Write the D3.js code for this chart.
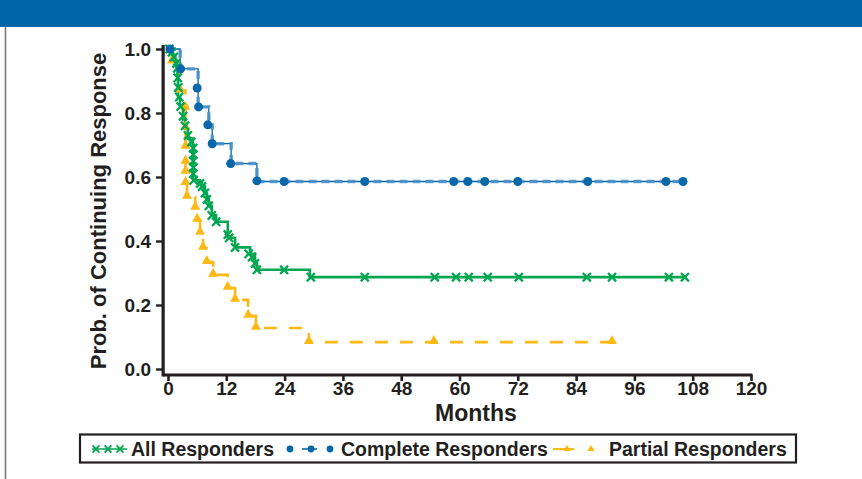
<!DOCTYPE html>
<html><head><meta charset="utf-8">
<script src="https://cdn.jsdelivr.net/npm/d3@7/dist/d3.min.js"></script>
<style>
html,body{margin:0;padding:0;background:#fff;}
svg{display:block;font-family:"Liberation Sans",Arial,sans-serif;font-weight:bold;}
</style></head>
<body>
<svg id="chart" width="862" height="479"></svg>
<script>
// ---- Data ----
const xTicks = [0, 12, 24, 36, 48, 60, 72, 84, 96, 108, 120];
const yTicks = [0, 0.2, 0.4, 0.6, 0.8, 1.0];
const seriesNames = ["All Responders", "Complete Responders", "Partial Responders"];

// Kaplan-Meier steps: [month, probability]
const allSteps = [[0,1.0],[0.4,0.99],[1.0,0.975],[1.5,0.955],[1.85,0.94],[1.95,0.91],[2.06,0.85],[2.47,0.82],[3.09,0.78],[3.5,0.75],[4.1,0.72],[5.1,0.70],[5.2,0.59],[6.6,0.58],[7.0,0.57],[7.6,0.55],[8.0,0.53],[8.4,0.51],[9.0,0.48],[9.9,0.46],[12.3,0.41],[13.8,0.38],[16.9,0.36],[17.9,0.33],[18.3,0.31],[29.2,0.287],[106.4,0.287]];
const allMarks = [[0.3,1.0],[0.8,0.99],[1.2,0.975],[1.7,0.955],[1.9,0.94],[2.0,0.91],[2.1,0.88],[2.3,0.85],[2.6,0.82],[3.1,0.79],[3.5,0.76],[4.1,0.73],[4.8,0.71],[5.2,0.69],[5.2,0.67],[5.2,0.65],[5.2,0.63],[5.2,0.61],[5.3,0.59],[6.6,0.58],[7.0,0.57],[7.6,0.55],[8.0,0.53],[8.4,0.51],[9.0,0.48],[9.9,0.46],[12.3,0.42],[12.6,0.41],[13.8,0.38],[16.6,0.36],[17.3,0.35],[17.9,0.33],[18.3,0.31],[23.9,0.31],[29.4,0.287],[40.5,0.287],[54.9,0.287],[59.3,0.287],[61.9,0.287],[65.8,0.287],[72.2,0.287],[86.2,0.287],[91.4,0.287],[103.1,0.287],[106.4,0.287]];

const completeSteps = [[0,1.0],[2.5,0.938],[6.2,0.819],[8.4,0.763],[9.1,0.704],[13.0,0.642],[18.3,0.586],[106.0,0.586]];
const completeMarks = [[0.4,1.0],[2.6,0.938],[6.0,0.878],[6.3,0.819],[8.2,0.763],[9.1,0.704],[12.9,0.642],[18.3,0.588],[23.9,0.586],[40.5,0.586],[58.8,0.586],[61.7,0.586],[65.2,0.586],[72.0,0.586],[86.4,0.586],[102.5,0.586],[106.0,0.586]];

const partialSteps = [[0,1.0],[0.8,0.96],[2.5,0.87],[3.6,0.581],[3.9,0.5375],[5.6,0.503],[6.0,0.466],[6.6,0.425],[7.2,0.378],[8.0,0.334],[9.3,0.294],[12.3,0.253],[13.8,0.216],[16.5,0.166],[18.1,0.128],[29.0,0.084],[91.4,0.084]];
const partialMarks = [[0.8,0.96],[2.5,0.87],[3.6,0.816],[3.6,0.753],[3.6,0.694],[3.6,0.647],[3.6,0.616],[3.6,0.581],[3.9,0.5375],[5.6,0.503],[6.0,0.466],[6.6,0.425],[7.2,0.378],[8.0,0.334],[9.3,0.294],[12.3,0.253],[13.8,0.216],[16.5,0.166],[18.1,0.128],[29.0,0.084],[54.7,0.084],[91.4,0.084]];

// ---- Drawing ----
const GREEN = "#00a651", BLUE = "#0767a8", BLUE_L = "#4a90c9", ORANGE = "#fdb813", INK = "#231f20";
const svg = d3.select("#chart");
const x = d3.scaleLinear().domain([0, 120]).range([168, 751]);
const y = d3.scaleLinear().domain([0, 1]).range([369, 49]);

// header band and left border
svg.append("rect").attr("x", 0).attr("y", 0).attr("width", 862).attr("height", 27).attr("fill", "#0066a8");
svg.append("line").attr("x1", 5.5).attr("x2", 5.5).attr("y1", 27).attr("y2", 479).attr("stroke", "#7a7a7a").attr("stroke-width", 1.6);

// axes
const gx = svg.append("g").attr("transform", "translate(0,375)")
  .call(d3.axisBottom(x).tickValues(xTicks).tickSize(6).tickSizeOuter(0).tickFormat(d3.format("d")));
gx.select(".domain").remove();
gx.selectAll(".tick line").attr("stroke", INK).attr("stroke-width", 2.6);
gx.selectAll(".tick text").attr("fill", INK).attr("font-size", 19).attr("font-weight", "bold")
  .attr("font-family", "Liberation Sans, Arial, sans-serif").attr("dy", "0.9em").attr("y", 3);

const gy = svg.append("g").attr("transform", "translate(163,0)")
  .call(d3.axisLeft(y).tickValues(yTicks).tickSize(7).tickSizeOuter(0).tickFormat(d3.format(".1f")));
gy.select(".domain").remove();
gy.selectAll(".tick line").attr("stroke", INK).attr("stroke-width", 2.4);
gy.selectAll(".tick text").attr("fill", INK).attr("font-size", 19).attr("font-weight", "bold")
  .attr("font-family", "Liberation Sans, Arial, sans-serif").attr("x", -12);

// axis lines
svg.append("line").attr("x1", x(-1)).attr("x2", x(120) + 1.5).attr("y1", 375).attr("y2", 375)
  .attr("stroke", INK).attr("stroke-width", 3.2);
svg.append("line").attr("x1", x(-1)).attr("x2", x(-1)).attr("y1", y(1.0) - 4).attr("y2", 376.6)
  .attr("stroke", INK).attr("stroke-width", 3.2);

// axis titles
svg.append("text").attr("x", 476).attr("y", 421).attr("text-anchor", "middle")
  .attr("font-size", 23).attr("fill", INK).text("Months");
svg.append("text").attr("transform", "translate(106,211) rotate(-90)").attr("text-anchor", "middle")
  .attr("font-size", 22).attr("fill", INK).text("Prob. of Continuing Response");

const step = d3.line().x(d => x(d[0])).y(d => y(d[1])).curve(d3.curveStepAfter);

// Partial responders (dashed orange)
svg.append("path").attr("d", step(partialSteps)).attr("fill", "none").attr("stroke", ORANGE)
  .attr("stroke-width", 2.6).attr("stroke-dasharray", "13,12");
// All responders (solid green)
svg.append("path").attr("d", step(allSteps)).attr("fill", "none").attr("stroke", GREEN).attr("stroke-width", 2.6);
// Complete responders (thin solid + dashed overlay)
svg.append("path").attr("d", step(completeSteps)).attr("fill", "none").attr("stroke", BLUE).attr("stroke-width", 1.3);
svg.append("path").attr("d", step(completeSteps)).attr("fill", "none").attr("stroke", BLUE_L)
  .attr("stroke-width", 3.4).attr("stroke-dasharray", "8,5").attr("opacity", 0.9);

const triPath = "M-5,1.8L5,1.8L0,-7.2Z";
const crossPath = "M-4,-4.2L4,4.2M4,-4.2L-4,4.2";

svg.append("g").selectAll("path").data(partialMarks).join("path")
  .attr("transform", d => `translate(${x(d[0])},${y(d[1])})`).attr("d", triPath).attr("fill", ORANGE);
svg.append("g").selectAll("path").data(allMarks).join("path")
  .attr("transform", d => `translate(${x(d[0])},${y(d[1])})`).attr("d", crossPath)
  .attr("stroke", GREEN).attr("stroke-width", 2.3).attr("fill", "none");
svg.append("g").selectAll("circle").data(completeMarks).join("circle")
  .attr("cx", d => x(d[0])).attr("cy", d => y(d[1])).attr("r", 4.5).attr("fill", BLUE);

// ---- Legend ----
const lg = svg.append("g");
lg.append("rect").attr("x", 80).attr("y", 434.5).attr("width", 716).attr("height", 28)
  .attr("fill", "#fff").attr("stroke", INK).attr("stroke-width", 2.2);
const ly = 449;
// green
lg.append("line").attr("x1", 92).attr("x2", 127).attr("y1", ly).attr("y2", ly).attr("stroke", GREEN).attr("stroke-width", 1.6);
[96, 108, 120].forEach(cx => lg.append("path").attr("transform", `translate(${cx},${ly})`).attr("d", "M-3.4,-3.6L3.4,3.6M3.4,-3.6L-3.4,3.6")
  .attr("stroke", GREEN).attr("stroke-width", 1.8).attr("fill", "none"));
lg.append("text").attr("x", 131).attr("y", ly + 7).attr("font-size", 19.5).attr("fill", INK).text(seriesNames[0]);
// blue
lg.append("line").attr("x1", 302).attr("x2", 317).attr("y1", ly).attr("y2", ly).attr("stroke", BLUE).attr("stroke-width", 1.6);
[290, 311, 330].forEach(cx => lg.append("circle").attr("cx", cx).attr("cy", ly).attr("r", 3.4).attr("fill", BLUE));
lg.append("text").attr("x", 341).attr("y", ly + 7).attr("font-size", 19.5).attr("fill", INK).text(seriesNames[1]);
// orange
lg.append("line").attr("x1", 553).attr("x2", 574).attr("y1", ly).attr("y2", ly).attr("stroke", ORANGE).attr("stroke-width", 2);
[567, 591].forEach(cx => lg.append("path").attr("transform", `translate(${cx},${ly + 1})`).attr("d", "M-3.8,1L3.8,1L0,-5Z").attr("fill", ORANGE));
lg.append("text").attr("x", 609).attr("y", ly + 7).attr("font-size", 19.5).attr("fill", INK).text(seriesNames[2]);
</script>
</body></html>
